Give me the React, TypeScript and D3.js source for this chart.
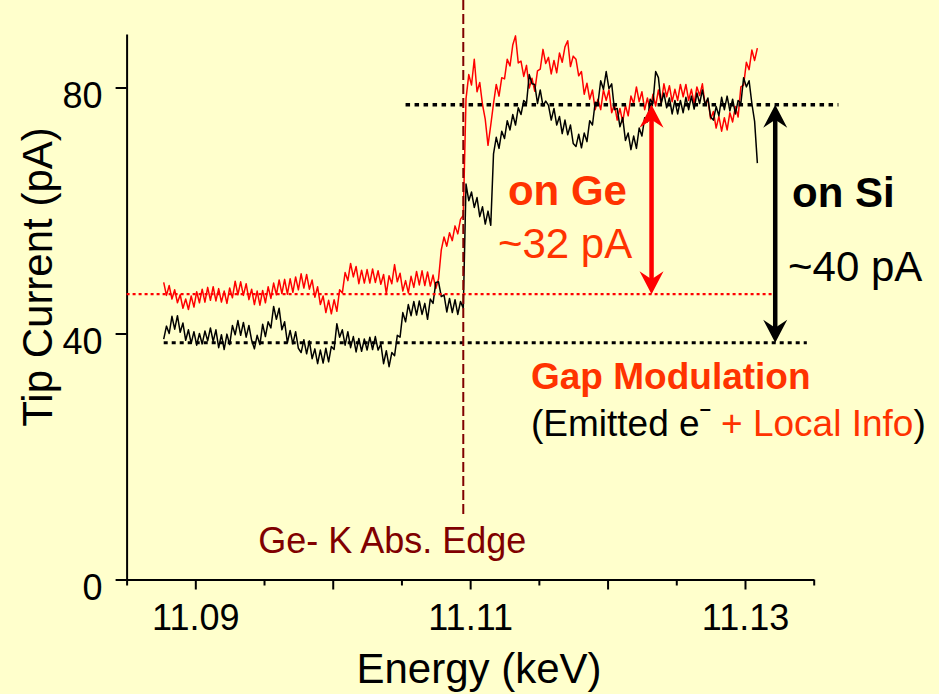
import { useEffect, useRef } from 'react';
import * as d3 from 'd3';

// uniformly sampled scan: first energy and step (keV)
const scanStart = 11.0877;
const scanStep = 0.0002;

// tip current (pA) measured with the tip over Ge (red trace)
const currentOnGe = [
  48.3, 46.2, 47.8, 45.6, 47.1, 45.0, 46.3, 44.1, 45.6, 43.9,
  46.1, 44.3, 46.8, 45.0, 47.2, 45.1, 47.5, 45.4, 47.6, 45.3,
  47.3, 45.1, 46.9, 44.9, 47.4, 45.8, 48.5, 46.3, 48.4, 46.2,
  48.1, 45.5, 47.2, 44.7, 46.9, 44.6, 47.0, 45.0, 47.6, 45.7,
  48.2, 46.3, 48.7, 46.5, 48.8, 46.4, 48.9, 46.7, 49.2, 47.1,
  49.7, 47.4, 49.6, 47.2, 48.7, 45.9, 47.6, 44.7, 46.1, 43.4,
  45.4, 43.2, 45.5, 43.6, 47.1, 46.6, 49.9, 48.6, 51.4, 49.2,
  50.9, 48.1, 50.3, 48.2, 50.4, 48.2, 50.5, 48.3, 50.2, 48.0,
  49.6, 46.5, 49.4, 48.1, 51.2, 48.4, 49.8, 46.9, 48.6, 46.6,
  49.3, 47.5, 50.1, 47.9, 50.2, 47.8, 50.0, 47.7, 49.5, 47.3,
  48.9, 53.6, 55.7, 54.2, 56.4, 55.1, 57.5, 56.2, 58.6, 59.2,
  78.2, 82.1, 80.4, 84.6, 79.3, 80.8, 77.2, 74.8, 70.6, 73.9,
  77.4, 80.5, 78.6, 81.6, 81.4, 84.6, 83.5, 86.9, 88.4, 84.0,
  84.3, 81.8, 83.6, 79.9, 81.5, 79.4, 82.7, 83.0, 86.2, 83.9,
  84.9, 82.2, 84.4, 82.4, 85.6, 84.1, 86.6, 87.6, 83.4, 85.1,
  84.6, 81.9, 82.6, 78.9, 80.7, 78.1, 79.6, 76.4, 78.1, 76.4,
  79.6, 77.9, 79.6, 75.9, 77.3, 74.7, 76.6, 74.4, 77.1, 75.4,
  78.6, 77.4, 80.1, 77.7, 79.3, 76.4, 78.3, 76.1, 78.9, 77.0,
  79.6, 77.4, 80.6, 78.5, 80.3, 77.7, 79.7, 77.9, 80.5, 78.5,
  80.5, 77.9, 79.7, 77.4, 80.1, 78.7, 80.6, 77.1, 78.1, 74.9,
  76.1, 73.4, 75.3, 72.9, 75.1, 73.1, 75.9, 74.4, 76.9, 75.2,
  80.1, 80.4, 84.1, 82.9, 86.1, 84.4, 86.4,
];

// tip current (pA) with the tip over Si (black trace)
const currentOnSi = [
  39.1, 41.2, 40.0, 42.8, 40.7, 42.9, 40.2, 41.7, 38.9, 40.6,
  38.4, 40.3, 38.1, 40.0, 38.3, 40.4, 38.8, 40.9, 38.7, 40.6,
  37.7, 39.8, 37.4, 39.9, 38.2, 41.3, 39.8, 42.1, 39.7, 41.8,
  39.4, 41.3, 38.9, 37.5, 39.7, 38.2, 41.5, 39.5, 41.9, 40.9,
  44.4, 42.3, 44.1, 40.6, 41.9, 38.5, 40.5, 38.3, 40.3, 37.6,
  36.9, 39.0, 36.7, 38.8, 35.9, 37.5, 35.1, 37.3, 35.2, 37.6,
  35.4, 37.9, 37.4, 41.6, 39.4, 40.6, 38.1, 40.3, 37.7, 39.5,
  37.0, 39.2, 37.1, 39.1, 37.3, 39.4, 37.4, 39.5, 37.3, 38.3,
  35.1, 37.2, 34.6, 36.9, 36.4, 39.7, 39.4, 43.4, 41.9, 44.7,
  42.9, 45.2, 43.0, 45.3, 43.1, 44.9, 42.3, 45.6, 44.9, 48.3,
  48.4, 46.0, 46.3, 43.5, 45.7, 43.4, 45.5, 43.1, 45.2, 44.1,
  64.3, 61.6, 63.0, 60.5, 62.1, 59.0, 60.6, 57.8, 59.9, 57.6,
  69.2, 71.9, 70.1, 72.9, 71.7, 74.6, 73.1, 75.6, 73.9, 76.7,
  75.6, 77.9, 77.4, 82.1, 80.6, 80.5, 77.4, 79.6, 77.0, 77.8,
  77.1, 74.7, 76.6, 73.9, 75.3, 72.5, 74.7, 72.3, 73.9, 70.9,
  70.4, 72.4, 70.2, 72.6, 71.2, 74.6, 73.9, 77.6, 77.4, 81.1,
  79.7, 82.6, 79.8, 80.6, 76.4, 76.6, 73.6, 75.1, 71.4, 72.6,
  69.9, 72.1, 70.1, 73.4, 72.1, 75.1, 74.4, 78.1, 77.4, 82.6,
  81.6, 77.4, 79.1, 76.7, 78.3, 75.7, 77.9, 75.7, 77.9, 75.9,
  78.4, 76.4, 78.6, 76.5, 79.1, 77.4, 79.6, 77.2, 78.3, 75.2,
  74.7, 76.9, 75.4, 78.4, 76.4, 78.6, 76.2, 78.1, 75.7, 77.9,
  77.4, 81.6, 80.1, 81.1, 77.4, 74.5, 67.7,
];

const xTicks = [11.085, 11.09, 11.095, 11.1, 11.105, 11.11, 11.115, 11.12, 11.125, 11.13, 11.135];
const xLabels = [11.09, 11.11, 11.13];
const yTicks = [0, 40, 80];

// reference levels (pA) and the Ge K edge (keV)
const levelTop = 77.2;
const levelGe = 46.4;
const levelSi = 38.5;
const edgeEnergy = 11.1095;

const FONT = '"Liberation Sans", Arial, Helvetica, sans-serif';
const ORANGE = '#ff3300';
const MAROON = '#800000';

export default function App() {
  const svgRef = useRef<SVGSVGElement>(null);

  useEffect(() => {
    if (!svgRef.current) return;
    const svg = d3.select(svgRef.current);
    svg.selectAll('*').remove();

    const x = d3.scaleLinear().domain([11.085, 11.135]).range([126.6, 813.7]);
    const y = d3.scaleLinear().domain([0, 88.7]).range([579.5, 34]);

    svg.append('rect').attr('width', 939).attr('height', 694).attr('fill', '#ffffcc');

    // axes
    const yAxis = d3.axisLeft(y)
      .tickValues(yTicks)
      .tickSize(11)
      .tickSizeOuter(0)
      .tickPadding(13)
      .tickFormat(d3.format('d'));
    const gy = svg.append('g').attr('transform', `translate(${x(11.085)},0)`).call(yAxis);
    gy.select('.domain').attr('stroke-width', 2);
    gy.selectAll('.tick line').attr('stroke-width', 2);
    gy.selectAll('.tick text')
      .attr('font-family', FONT).attr('font-size', 36).attr('fill', '#000')
      .attr('dy', '0.55em');

    const xAxis = d3.axisBottom(x)
      .tickValues(xTicks)
      .tickSize(6)
      .tickSizeOuter(0)
      .tickPadding(19)
      .tickFormat((d) => (xLabels.some((l) => Math.abs(l - +d) < 1e-9) ? d3.format('.2f')(+d) : ''));
    const gx = svg.append('g').attr('transform', `translate(0,${y(0)})`).call(xAxis);
    gx.select('.domain').attr('stroke-width', 2);
    gx.selectAll('.tick line')
      .attr('stroke-width', 2)
      .attr('y2', (d: any) => (Math.abs(d * 100 - Math.round(d * 100)) < 1e-6 ? 10 : 6));
    gx.selectAll('.tick text')
      .attr('font-family', FONT).attr('font-size', 36).attr('fill', '#000');

    // axis titles
    svg.append('text')
      .attr('x', 479).attr('y', 683)
      .attr('text-anchor', 'middle')
      .attr('font-family', FONT).attr('font-size', 42)
      .text('Energy (keV)');
    svg.append('text')
      .attr('transform', 'translate(52,277) rotate(-90)')
      .attr('text-anchor', 'middle')
      .attr('font-family', FONT).attr('font-size', 42)
      .text('Tip Current (pA)');

    // traces
    const line = d3.line<number>()
      .x((_, i) => x(scanStart + i * scanStep))
      .y((d) => y(d));
    svg.append('path').datum(currentOnGe)
      .attr('d', line).attr('fill', 'none')
      .attr('stroke', '#ff0000').attr('stroke-width', 1.5).attr('stroke-linejoin', 'round');
    svg.append('path').datum(currentOnSi)
      .attr('d', line).attr('fill', 'none')
      .attr('stroke', '#000').attr('stroke-width', 1.5).attr('stroke-linejoin', 'round');

    // reference levels
    const hline = (e1: number, e2: number, v: number, color: string, w: number, dash: string) =>
      svg.append('line')
        .attr('x1', x(e1)).attr('x2', x(e2)).attr('y1', y(v)).attr('y2', y(v))
        .attr('stroke', color).attr('stroke-width', w).attr('stroke-dasharray', dash);
    hline(11.1053, 11.1368, levelTop, '#000', 3.5, '4.5,4.5');
    hline(11.085, 11.132, levelGe, '#ff0000', 2.2, '3,3');
    hline(11.0877, 11.1345, levelSi, '#000', 3.2, '4,4');

    // Ge K absorption edge
    svg.append('line')
      .attr('x1', x(edgeEnergy)).attr('x2', x(edgeEnergy))
      .attr('y1', 0).attr('y2', y(10))
      .attr('stroke', MAROON).attr('stroke-width', 2).attr('stroke-dasharray', '10,4');
    svg.append('text')
      .attr('x', x(edgeEnergy) - 71).attr('y', y(4.3))
      .attr('text-anchor', 'middle')
      .attr('font-family', FONT).attr('font-size', 36).attr('fill', MAROON)
      .text('Ge- K Abs. Edge');

    // double-headed arrows
    const arrow = (e: number, vTop: number, vBot: number, color: string) => {
      const ax = x(e);
      const t = y(vTop);
      const b = y(vBot);
      svg.append('line')
        .attr('x1', ax).attr('x2', ax).attr('y1', t + 14).attr('y2', b - 14)
        .attr('stroke', color).attr('stroke-width', 4.5);
      svg.append('path')
        .attr('d', `M${ax},${t}L${ax - 12},${t + 23}L${ax},${t + 15}L${ax + 12},${t + 23}Z`)
        .attr('fill', color);
      svg.append('path')
        .attr('d', `M${ax},${b}L${ax - 12},${b - 23}L${ax},${b - 15}L${ax + 12},${b - 23}Z`)
        .attr('fill', color);
    };
    arrow(11.1232, levelTop, levelGe, '#ff0000');
    arrow(11.1322, levelTop, levelSi, '#000');

    // annotations
    const label = (e: number, v: number, str: string, color: string, size: number, bold = false) =>
      svg.append('text')
        .attr('x', x(e)).attr('y', y(v))
        .attr('font-family', FONT).attr('font-size', size)
        .attr('font-weight', bold ? 'bold' : 'normal')
        .attr('fill', color)
        .text(str);
    label(11.11275, 60.9, 'on Ge', ORANGE, 42, true);
    label(11.11202, 52.3, '~32 pA', ORANGE, 42);
    label(11.13342, 60.6, 'on Si', '#000', 42, true);
    label(11.13313, 48.5, '~40 pA', '#000', 42);
    label(11.11443, 30.9, 'Gap Modulation', ORANGE, 37, true);

    const sub = svg.append('text')
      .attr('x', x(11.11443)).attr('y', y(23.3))
      .attr('font-family', FONT).attr('font-size', 37).attr('fill', '#000');
    sub.append('tspan').text('(Emitted e');
    sub.append('tspan').attr('dy', -21).attr('font-size', 20).attr('font-weight', 'bold').text('–');
    sub.append('tspan').attr('dy', 21).attr('fill', ORANGE).text(' + Local Info');
    sub.append('tspan').text(')');
  }, []);

  return (
    <svg
      ref={svgRef}
      width={939}
      height={694}
      style={{ position: 'absolute', left: 0, top: 0, display: 'block' }}
    />
  );
}
